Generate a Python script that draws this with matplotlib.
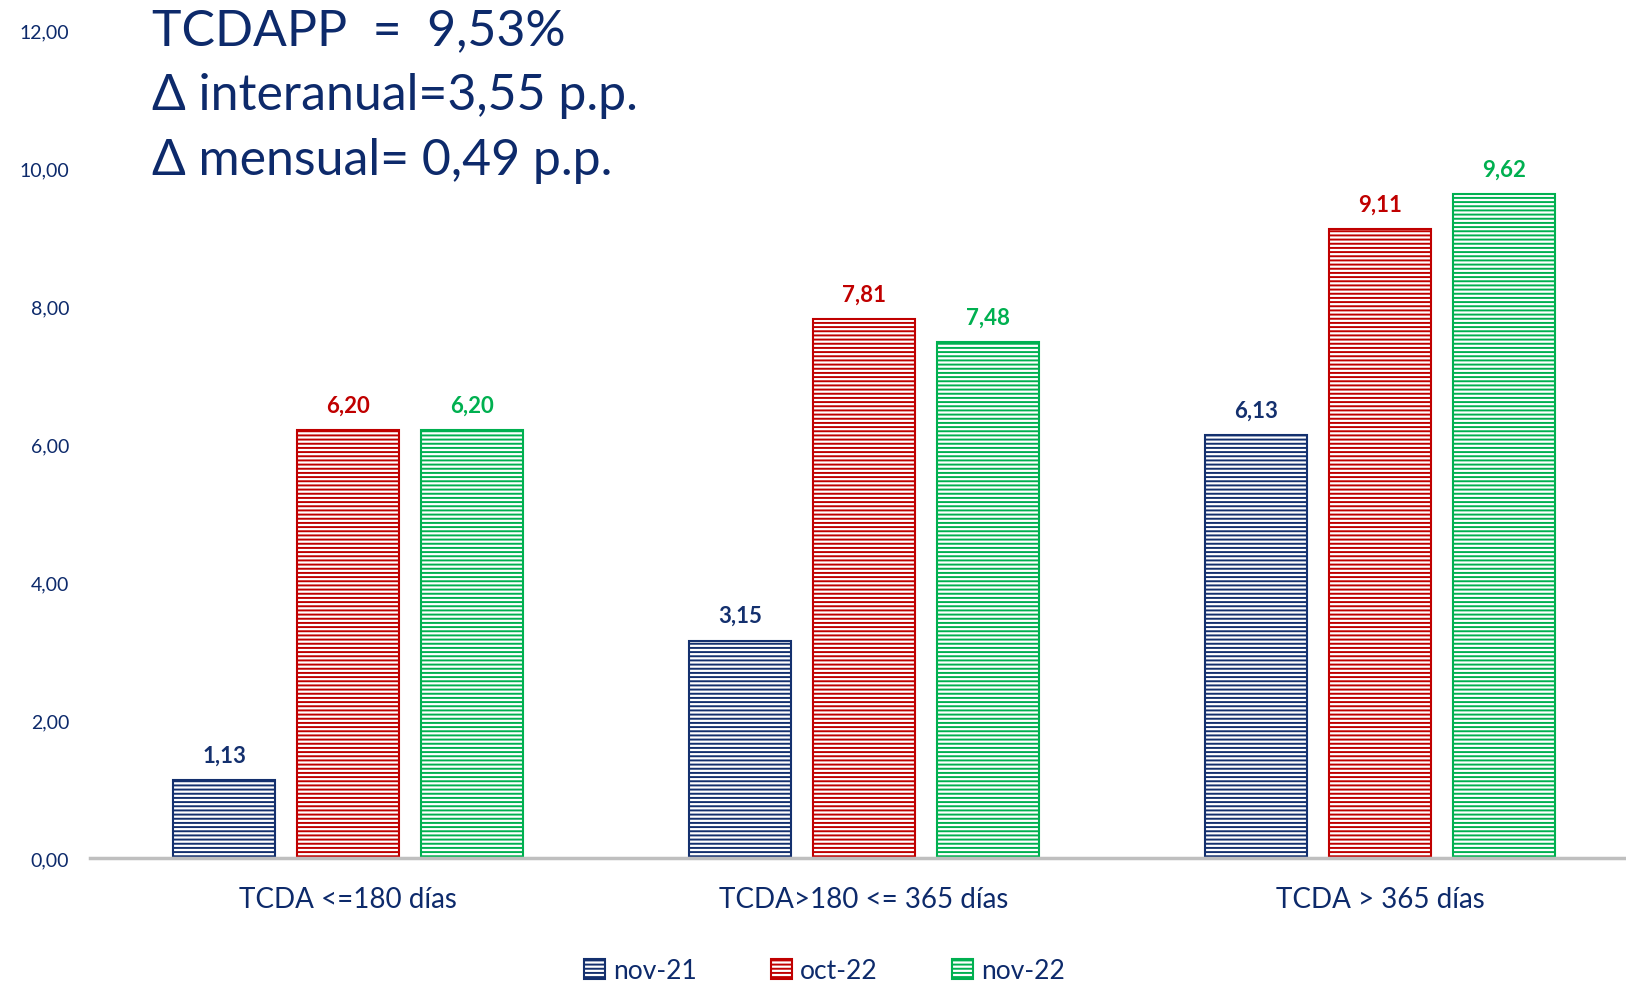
import numpy as np
import matplotlib.pyplot as plt

# Data
categories = ["TCDA <=180 días", "TCDA>180 <= 365 días", "TCDA > 365 días"]
series_names = ["nov-21", "oct-22", "nov-22"]
nov21 = [1.13, 3.15, 6.13]
oct22 = [6.20, 7.81, 9.11]
nov22 = [6.20, 7.48, 9.62]
ytick_values = [0, 2, 4, 6, 8, 10, 12]
ytick_labels = ["0,00", "2,00", "4,00", "6,00", "8,00", "10,00", "12,00"]
headline = ["TCDAPP  =  9,53%", "Δ interanual=3,55 p.p.", "Δ mensual= 0,49 p.p."]

navy = "#0D2A6B"
colors = ["#14306E", "#C00000", "#00B050"]
label_colors = ["#14306E", "#C00000", "#00B050"]

plt.rcParams['font.family'] = ['Lato', 'DejaVu Sans']
plt.rcParams['hatch.linewidth'] = 1.4

fig = plt.figure(figsize=(16.26, 9.87), dpi=100)
ax = fig.add_axes([90 / 1626, 1 - 859 / 987, 1548 / 1626, (859 - 31) / 987])

x = np.arange(len(categories))
width = 0.197
offsets = [-0.24, 0, 0.24]
all_series = [nov21, oct22, nov22]

for i, vals in enumerate(all_series):
    bars = ax.bar(x + offsets[i], vals, width, facecolor="white",
                  edgecolor=colors[i], hatch="----", linewidth=1.5,
                  label=series_names[i], zorder=2)
    for b, v in zip(bars, vals):
        ax.annotate(f"{v:.2f}".replace(".", ","),
                    (b.get_x() + b.get_width() / 2, v),
                    xytext=(0, 18), textcoords="offset points",
                    ha="center", va="center", fontsize=16, fontweight="bold",
                    color=label_colors[i])

ax.set_xlim(-0.5, 2.5)
ax.set_ylim(0, 12)
ax.set_yticks(ytick_values)
ax.set_yticklabels(ytick_labels, fontsize=14, color=navy)
ax.set_xticks(x)
ax.set_xticklabels(categories, fontsize=20, color=navy)
ax.tick_params(axis="both", length=0)
ax.tick_params(axis="x", pad=20)
ax.tick_params(axis="y", pad=15)
for s in ["top", "right", "left"]:
    ax.spines[s].set_visible(False)
ax.spines["bottom"].set_color("#BFBFBF")
ax.spines["bottom"].set_linewidth(2.5)

# Headline text
for k, line in enumerate(headline):
    fig.text(152 / 1626, 1 - (31 + 65 * k) / 987, line, fontsize=36,
             color=navy, va="center", ha="left")

leg = fig.legend(loc="center", bbox_to_anchor=(0.507, 1 - 972 / 987), ncol=3,
                 frameon=False, fontsize=19, handlelength=0.8, handleheight=0.8,
                 handletextpad=0.3, columnspacing=2.8)
for t in leg.get_texts():
    t.set_color(navy)

fig.savefig("out.png", dpi=100)
